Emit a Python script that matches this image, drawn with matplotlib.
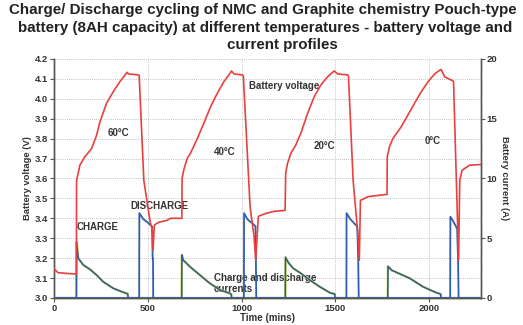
import matplotlib
matplotlib.use("Agg")
import matplotlib.pyplot as plt
import numpy as np

plt.rcParams['font.family'] = ['Liberation Sans', 'DejaVu Sans']

# Battery voltage trace (minutes, volts)
volt_time = [0, 20, 60, 118, 119, 137, 164, 199, 226, 244, 279, 315, 350, 389, 396, 448,
             453, 478, 513, 522, 527, 534, 557, 602, 620, 681,
             682, 691, 709, 727, 763, 798, 834, 870, 905, 932, 946, 959, 1004,
             1009, 1045, 1066, 1075, 1089, 1130, 1174, 1232,
             1235, 1245, 1263, 1289, 1316, 1352, 1387, 1423, 1459, 1494, 1512, 1566,
             1570, 1595, 1620, 1628, 1634, 1675, 1727, 1776,
             1777, 1789, 1807, 1852, 1888, 1923, 1959, 1995, 2030, 2064, 2084, 2128,
             2131, 2158, 2164, 2176, 2190, 2217, 2275]
volt_values = [3.145, 3.127, 3.124, 3.12, 3.59, 3.668, 3.71, 3.75, 3.818, 3.885, 3.978, 4.036, 4.086, 4.133, 4.125, 4.12,
               4.118, 3.59, 3.375, 3.35, 3.24, 3.366, 3.38, 3.39, 3.40, 3.40,
               3.60, 3.643, 3.70, 3.727, 3.80, 3.877, 3.96, 4.028, 4.086, 4.12, 4.14, 4.125, 4.12,
               4.115, 3.458, 3.31, 3.19, 3.41, 3.425, 3.435, 3.44,
               3.626, 3.676, 3.727, 3.768, 3.827, 3.927, 4.01, 4.07, 4.111, 4.14, 4.125, 4.12,
               4.115, 3.59, 3.325, 3.19, 3.49, 3.509, 3.515, 3.52,
               3.71, 3.76, 3.80, 3.86, 3.92, 3.978, 4.036, 4.086, 4.125, 4.148, 4.11, 4.09,
               4.085, 3.19, 3.59, 3.64, 3.65, 3.667, 3.67]

# Charge current (minutes, amps)
charge_time = [0, 118, 119, 128, 155, 190, 226, 261, 315, 368, 392, 394,
               680, 681, 688, 724, 777, 830, 884, 937, 945, 946,
               1233, 1234, 1250, 1275, 1311, 1364, 1417, 1471, 1497, 1499,
               1780, 1781, 1800, 1897, 1968, 2040, 2062, 2064, 2275]
charge_amps = [0, 0, 4.7, 3.32, 2.76, 2.4, 1.92, 1.36, 0.81, 0.48, 0.35, 0,
               0, 3.6, 3.17, 2.62, 1.92, 1.23, 0.67, 0.39, 0.3, 0,
               0, 3.4, 2.95, 2.48, 2.12, 1.5, 0.94, 0.44, 0.33, 0,
               0, 2.65, 2.33, 1.65, 0.94, 0.44, 0.33, 0, 0]

# Discharge current (minutes, amps)
discharge_time = [0, 453, 454, 475, 500, 522, 525, 527, 528,
                  1012, 1013, 1030, 1057, 1074, 1076, 1078,
                  1559, 1560, 1580, 1617, 1622, 1625,
                  2113, 2114, 2130, 2150, 2155, 2158, 2275]
discharge_amps = [0, 0, 7.1, 6.6, 6.3, 5.97, 3.3, 3.3, 0,
                  0, 7.1, 6.6, 6.25, 6.0, 3.27, 0,
                  0, 7.1, 6.6, 5.97, 3.3, 0,
                  0, 6.8, 6.4, 5.8, 3.3, 0, 0]

volt_ticks = [3.0, 3.1, 3.2, 3.3, 3.4, 3.5, 3.6, 3.7, 3.8, 3.9, 4.0, 4.1, 4.2]
amp_ticks = [0, 5, 10, 15, 20]
time_ticks = [0, 500, 1000, 1500, 2000]

temp_labels = ["60°C", "40°C", "20°C", "0°C"]
temp_label_pos = [(340, 3.828), (910, 3.733), (1444, 3.763), (2017, 3.79)]

fig = plt.figure(figsize=(5.23, 3.25), dpi=100)
ax = fig.add_axes([0.1038, 0.0831, 0.8150, 0.7354])
ax2 = ax.twinx()

axis_col = '#555555'
tick_font = dict(fontsize=6.8, fontweight='bold', color='#333333')

ax.set_xlim(0, 2275)
ax.set_ylim(3.0, 4.2)
ax2.set_ylim(0, 20)

ax.set_yticks(volt_ticks)
ax.set_yticklabels([f"{v:.1f}" for v in volt_ticks], **tick_font)
ax.set_xticks(time_ticks)
ax.set_xticklabels([str(t) for t in time_ticks], **tick_font)
ax2.set_yticks(amp_ticks)
ax2.set_yticklabels([str(a) for a in amp_ticks], **tick_font)

ax.grid(True, which='major', linestyle=(0, (1, 1.5)), color='#b0b0b0', linewidth=0.6)
ax.set_axisbelow(True)

for a in (ax, ax2):
    a.spines['top'].set_visible(False)
    for s in ('left', 'right', 'bottom'):
        a.spines[s].set_color(axis_col)
        a.spines[s].set_linewidth(1.0)
    a.tick_params(length=3, width=0.8, color=axis_col, pad=1.5)

# currents on the right-hand scale
ax2.plot(charge_time, charge_amps, color='#d2d860', linewidth=1.8, zorder=2)
ax2.plot(charge_time, charge_amps, color='#2a5a98', linewidth=1.1, zorder=3)
ax2.plot(discharge_time, discharge_amps, color='#2f5db0', linewidth=1.3, zorder=4)
# voltage on the left-hand scale
ax2.plot(np.array(volt_time), (np.array(volt_values) - 3.0) / 1.2 * 20,
         color='#e8403e', linewidth=1.2, zorder=5)

note = dict(fontsize=7, fontweight='bold', color='#333333')
for lab, (tx, vy) in zip(temp_labels, temp_label_pos):
    ax.text(tx, vy, lab, ha='center', va='center', **note)
ax.text(1038, 4.064, "Battery voltage", ha='left', va='center', **note)
ax.text(119, 3.355, "CHARGE", ha='left', va='center', **note)
ax.text(407, 3.462, "DISCHARGE", ha='left', va='center', **note)
ax.text(853, 3.10, "Charge and discharge", ha='left', va='center', **note)
ax.text(853, 3.043, "currents", ha='left', va='center', **note)

label_font = dict(fontsize=6.8, fontweight='bold', color='#333333')
ax.set_ylabel("Battery voltage (V)", va='center', **label_font)
ax.yaxis.set_label_coords(-0.064, 0.5)
ax2.set_ylabel("Battery current (A)", rotation=270, va='center', **label_font)
ax2.yaxis.set_label_coords(1.056, 0.5)
ax.set_xlabel("Time (mins)", fontsize=7, fontweight='bold', color='#333333', va='center')
ax.xaxis.set_label_coords(0.5, -0.084)

title_font = dict(fontsize=10.9, fontweight='bold', color='#222222', ha='center', va='center')
fig.text(263 / 523, 1 - 10 / 325, "Charge/ Discharge cycling of NMC and Graphite chemistry Pouch-type", **title_font)
fig.text(265 / 523, 1 - 27.7 / 325, "battery (8AH capacity) at different temperatures - battery voltage and", **title_font)
fig.text(282 / 523, 1 - 45 / 325, "current profiles", **title_font)

fig.savefig("out.png", dpi=100)
